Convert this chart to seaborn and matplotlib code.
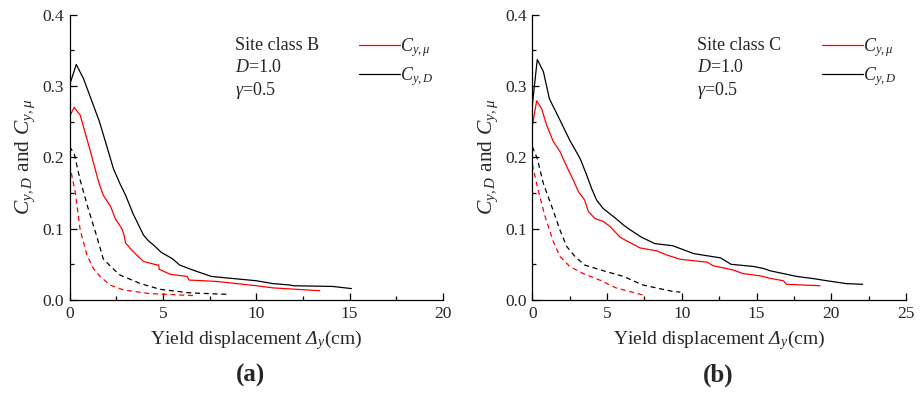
import numpy as np
import pandas as pd
import matplotlib
matplotlib.use("Agg")
import matplotlib.pyplot as plt
import seaborn as sns
from matplotlib.ticker import MultipleLocator

# ---------------- Data: panel (a) Site class B ----------------
a_D_x = [0, 0.36, 0.75, 1.6, 2.0, 2.35, 2.7, 3.0, 3.4, 3.96, 4.22, 4.5, 4.9, 5.5, 5.9,
         6.6, 7.6, 8.8, 10.0, 10.9, 11.8, 12.0, 14.1, 15.1]
a_D_y = [0.301, 0.330, 0.310, 0.250, 0.215, 0.184, 0.163, 0.147, 0.121, 0.091, 0.083, 0.077,
         0.067, 0.058, 0.049, 0.042, 0.033, 0.030, 0.027, 0.023, 0.021, 0.020, 0.019, 0.016]
a_mu_x = [0, 0.25, 0.57, 1.1, 1.55, 1.8, 2.2, 2.45, 2.8, 2.9, 3.0, 3.33, 3.6, 3.96, 4.7,
          4.78, 4.8, 5.4, 6.3, 6.4, 7.9, 10.0, 10.9, 13.4]
a_mu_y = [0.257, 0.270, 0.259, 0.210, 0.166, 0.147, 0.131, 0.114, 0.100, 0.093, 0.080, 0.070,
          0.063, 0.054, 0.049, 0.049, 0.043, 0.036, 0.033, 0.028, 0.026, 0.020, 0.017, 0.013]
a_Dd_x = [0, 0.25, 0.57, 1.0, 1.46, 1.8, 2.2, 2.7, 3.8, 4.85, 6.45, 8.4]
a_Dd_y = [0.215, 0.205, 0.168, 0.128, 0.089, 0.058, 0.047, 0.035, 0.023, 0.015, 0.010, 0.008]
a_mud_x = [0, 0.3, 0.57, 0.93, 1.28, 1.64, 2.17, 2.9, 4.3, 6.8]
a_mud_y = [0.190, 0.152, 0.098, 0.063, 0.044, 0.033, 0.021, 0.014, 0.009, 0.006]

# ---------------- Data: panel (b) Site class C ----------------
b_D_x = [0, 0.33, 0.74, 1.14, 1.85, 2.5, 3.2, 3.6, 3.97, 4.3, 4.75, 5.6, 6.1, 6.5, 7.3, 8.2,
         9.4, 10.8, 12.6, 13.3, 14.8, 15.5, 15.9, 16.8, 17.7, 18.8, 19.7, 21.0, 22.1]
b_D_y = [0.273, 0.337, 0.320, 0.282, 0.252, 0.224, 0.198, 0.177, 0.156, 0.140, 0.128, 0.114,
         0.105, 0.099, 0.088, 0.079, 0.076, 0.065, 0.059, 0.050, 0.047, 0.044, 0.041, 0.037,
         0.033, 0.030, 0.027, 0.023, 0.022]
b_mu_x = [0, 0.29, 0.62, 0.96, 1.4, 1.85, 2.3, 2.74, 3.08, 3.5, 3.75, 4.2, 4.75, 5.2, 5.87,
          6.3, 7.2, 8.3, 9.0, 9.9, 11.7, 12.1, 13.45, 14.1, 15.2, 16.0, 16.8, 17.0, 19.25]
b_mu_y = [0.244, 0.279, 0.268, 0.245, 0.222, 0.208, 0.187, 0.168, 0.152, 0.140, 0.124, 0.114,
          0.110, 0.103, 0.088, 0.083, 0.073, 0.069, 0.063, 0.057, 0.053, 0.048, 0.042, 0.037,
          0.034, 0.030, 0.027, 0.022, 0.020]
b_Dd_x = [0, 0.33, 0.74, 1.3, 1.85, 2.3, 2.85, 3.5, 4.75, 6.1, 7.4, 9.4, 9.9]
b_Dd_y = [0.215, 0.198, 0.163, 0.131, 0.098, 0.075, 0.061, 0.049, 0.041, 0.033, 0.021, 0.012, 0.011]
b_mud_x = [0, 0.33, 0.85, 1.4, 1.85, 2.5, 3.4, 4.5, 5.6, 6.5, 7.4]
b_mud_y = [0.190, 0.159, 0.117, 0.082, 0.061, 0.047, 0.037, 0.028, 0.017, 0.012, 0.007]

site_labels = ["Site class B", "Site class C"]
D_text = "$D$=1.0"
g_text = r"$\mathit{γ}$=0.5"
x_max = [20, 25]
panel_tags = ["(a)", "(b)"]
lab_mu = r"$C_{y,\mathit{μ}}$"
lab_D = r"$C_{y,D}$"
x_label = r"Yield displacement $\mathsf{Δ}_y$(cm)"
y_label = r"$C_{y,D}$ and $C_{y,\mathit{μ}}$"

sns.set_style("ticks")
plt.rcParams["font.family"] = ["Liberation Serif", "DejaVu Serif"]
plt.rcParams["mathtext.fontset"] = "custom"
plt.rcParams["mathtext.rm"] = "Liberation Serif"
plt.rcParams["mathtext.it"] = "Liberation Serif:italic"
plt.rcParams["mathtext.sf"] = "Liberation Serif:italic"
plt.rcParams["mathtext.bf"] = "Liberation Serif:bold"
plt.rcParams["xtick.direction"] = "in"
plt.rcParams["ytick.direction"] = "in"

fig = plt.figure(figsize=(9.21, 3.93), dpi=100)
axA = fig.add_axes([0.0755, 0.2366, 0.4055, 0.7265])
axB = fig.add_axes([0.578, 0.2366, 0.4057, 0.7265])

panels = [
    (axA, a_mu_x, a_mu_y, a_D_x, a_D_y, a_mud_x, a_mud_y, a_Dd_x, a_Dd_y),
    (axB, b_mu_x, b_mu_y, b_D_x, b_D_y, b_mud_x, b_mud_y, b_Dd_x, b_Dd_y),
]

lw = 0.9
for i, (ax, mx, my, dx, dy, mdx, mdy, ddx, ddy) in enumerate(panels):
    sns.lineplot(x=mx, y=my, ax=ax, color="#ff0000", lw=lw, sort=False, estimator=None, label=lab_mu)
    sns.lineplot(x=dx, y=dy, ax=ax, color="black", lw=lw, sort=False, estimator=None, label=lab_D)
    sns.lineplot(x=mdx, y=mdy, ax=ax, color="#ff0000", lw=lw, sort=False, estimator=None,
                 dashes=False).lines[-1].set_dashes([4, 3])
    sns.lineplot(x=ddx, y=ddy, ax=ax, color="black", lw=lw, sort=False, estimator=None,
                 dashes=False).lines[-1].set_dashes([4, 3])

    ax.set_xlim(0, x_max[i])
    ax.set_ylim(0, 0.4)
    ax.xaxis.set_major_locator(MultipleLocator(5))
    ax.xaxis.set_minor_locator(MultipleLocator(2.5))
    ax.yaxis.set_major_locator(MultipleLocator(0.1))
    ax.yaxis.set_minor_locator(MultipleLocator(0.05))
    ax.yaxis.set_major_formatter(matplotlib.ticker.FormatStrFormatter("%.1f"))
    ax.tick_params(which="major", length=5, width=0.9, labelsize=12.5, pad=4, color="black")
    ax.tick_params(which="minor", length=3, width=0.9, color="black")
    for s in ["top", "right"]:
        ax.spines[s].set_visible(False)
    for s in ["left", "bottom"]:
        ax.spines[s].set_linewidth(0.9)
        ax.spines[s].set_color("black")
    ax.set_xlabel(x_label, fontsize=14, labelpad=5)
    ax.set_ylabel(y_label, fontsize=15.5, labelpad=4)

    ax.text(0.442, 0.891, site_labels[i], transform=ax.transAxes, fontsize=13, va="center")
    ax.text(0.442, 0.814, D_text, transform=ax.transAxes, fontsize=13, va="center")
    ax.text(0.442, 0.735, g_text, transform=ax.transAxes, fontsize=13, va="center")

    ax.legend(loc="upper left", bbox_to_anchor=(0.775, 0.925), frameon=False,
              fontsize=13, handlelength=2.3, handletextpad=0.0, borderpad=0,
              borderaxespad=0, labelspacing=0.35)

fig.text(0.272, 0.045, panel_tags[0], fontsize=18, fontweight="bold", ha="center", va="center")
fig.text(0.78, 0.045, panel_tags[1], fontsize=18, fontweight="bold", ha="center", va="center")

fig.savefig("out.png", dpi=100)
